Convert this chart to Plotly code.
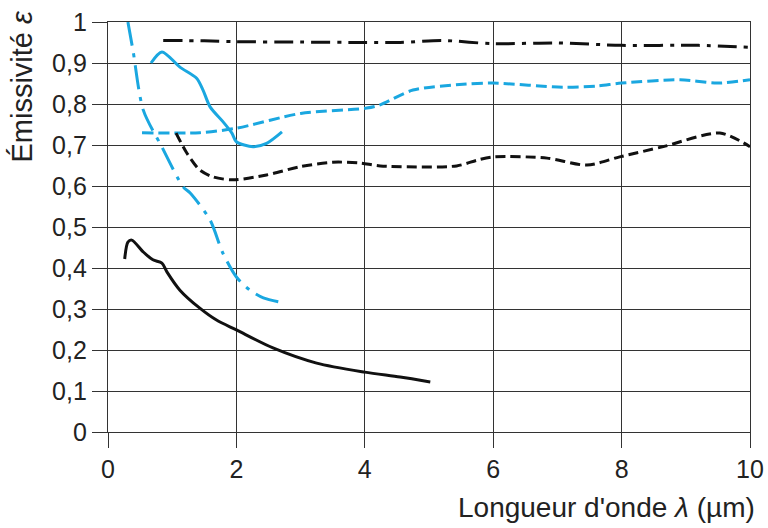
import plotly.graph_objects as go

# Black dash-dot (top curve)
x_a = [0.86, 1.5, 2.0, 3.0, 4.0, 4.55, 5.2, 6.0, 7.0, 8.0, 9.2, 10.0]
y_a = [0.955, 0.954, 0.952, 0.951, 0.950, 0.950, 0.955, 0.947, 0.949, 0.943, 0.943, 0.938]

# Blue solid
x_b = [0.67, 0.84, 1.12, 1.38, 1.48, 1.59, 1.79, 1.93, 2.0, 2.26, 2.47, 2.71]
y_b = [0.90, 0.927, 0.89, 0.863, 0.834, 0.793, 0.757, 0.729, 0.708, 0.696, 0.704, 0.732]

# Blue dash-dot (steep)
x_c = [0.31, 0.39, 0.55, 0.84, 1.17, 1.28, 1.59, 1.79, 2.0, 2.21, 2.42, 2.73]
y_c = [1.0, 0.93, 0.785, 0.695, 0.598, 0.583, 0.517, 0.436, 0.378, 0.346, 0.327, 0.315]

# Blue dashed
x_d = [0.53, 1.43, 2.0, 3.0, 4.03, 4.24, 4.75, 5.53, 6.0, 7.09, 7.62, 8.0, 8.91, 9.49, 10.0]
y_d = [0.73, 0.73, 0.741, 0.777, 0.79, 0.798, 0.834, 0.848, 0.851, 0.841, 0.844, 0.851, 0.859, 0.851, 0.859]

# Black dashed
x_e = [1.06, 1.23, 1.43, 1.64, 1.95, 2.47, 2.99, 3.5, 3.93, 4.24, 5.43, 5.75, 6.0, 6.84, 7.46, 7.97, 8.65, 9.53, 10.0]
y_e = [0.729, 0.68, 0.639, 0.622, 0.615, 0.627, 0.647, 0.658, 0.656, 0.649, 0.649, 0.663, 0.671, 0.668, 0.651, 0.671, 0.696, 0.729, 0.696]

# Black solid (bottom)
x_f = [0.26, 0.31, 0.37, 0.55, 0.70, 0.84, 0.92, 1.12, 1.43, 1.69, 2.0, 2.57, 3.25, 4.0, 4.55, 5.02]
y_f = [0.422, 0.463, 0.468, 0.439, 0.42, 0.412, 0.39, 0.346, 0.302, 0.273, 0.249, 0.205, 0.168, 0.146, 0.134, 0.122]

x_ticks = [0, 2, 4, 6, 8, 10]
x_ticklabels = ["0", "2", "4", "6", "8", "10"]
y_ticks = [0, 0.1, 0.2, 0.3, 0.4, 0.5, 0.6, 0.7, 0.8, 0.9, 1.0]
y_ticklabels = ["0", "0,1", "0,2", "0,3", "0,4", "0,5", "0,6", "0,7", "0,8", "0,9", "1"]

BLUE = "#1AA7E0"
BLACK = "#111111"

fig = go.Figure()
series = [
    (x_a, y_a, BLACK, "19px,7px,4px,7px"),
    (x_b, y_b, BLUE, "solid"),
    (x_c, y_c, BLUE, "24px,8px,4px,8px"),
    (x_d, y_d, BLUE, "11px,5px"),
    (x_e, y_e, BLACK, "10px,5px"),
    (x_f, y_f, BLACK, "solid"),
]
for xs, ys, col, dash in series:
    fig.add_trace(go.Scatter(x=xs, y=ys, mode="lines",
                             line=dict(color=col, width=3, dash=dash, shape="spline", smoothing=0.8),
                             showlegend=False, hoverinfo="skip"))

axis_common = dict(showgrid=True, gridcolor="#333333", gridwidth=1.3,
                   showline=True, linecolor="#333333", linewidth=1.3, mirror=True,
                   ticks="outside", ticklen=15, tickwidth=1.3, tickcolor="#333333",
                   zeroline=False, automargin=False,
                   tickfont=dict(size=25, color="#222222"))

fig.update_xaxes(range=[0, 10], tickvals=x_ticks, ticktext=x_ticklabels, **axis_common)
fig.update_yaxes(range=[0, 1], tickvals=y_ticks, ticktext=y_ticklabels, ticklabelstandoff=0, **axis_common)

fig.update_layout(
    width=768, height=528,
    margin=dict(l=108, r=18, t=22, b=96),
    plot_bgcolor="white", paper_bgcolor="white",
    font=dict(family="Liberation Sans, Arial, sans-serif", color="#222222"),
    annotations=[
        dict(text="Longueur d'onde <i>λ</i> (µm)", xref="paper", yref="paper",
             x=1.011, y=-0.183, xanchor="right", yanchor="middle", showarrow=False,
             font=dict(size=28, color="#222222")),
        dict(text="Émissivité <i>ε</i>", xref="paper", yref="paper",
             x=-0.134, y=0.845, xanchor="center", yanchor="middle", showarrow=False,
             textangle=-90, font=dict(size=29, color="#222222")),
    ],
)

fig.write_html("out.html")
